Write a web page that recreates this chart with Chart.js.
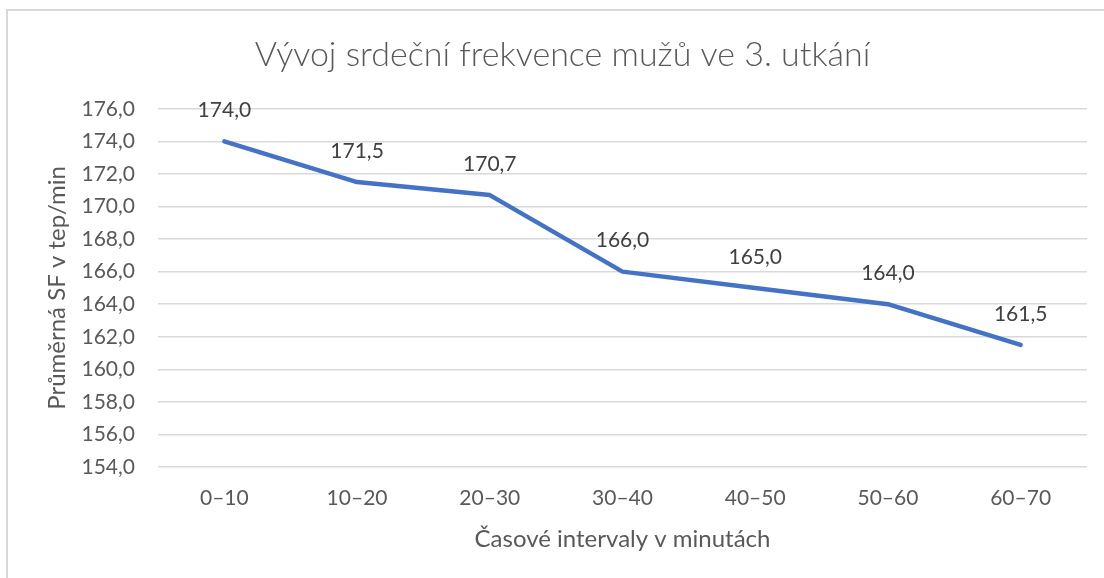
<!DOCTYPE html>
<html>
<head>
<meta charset="utf-8">
<script src="https://cdn.jsdelivr.net/npm/chart.js@4.4.0/dist/chart.umd.min.js"></script>
<style>
    html, body { margin: 0; padding: 0; background: #fff; overflow: hidden; }
    #frame { position: absolute; left: 6px; top: 9px; width: 1120px; height: 600px; border: 2px solid #d9d9d9; box-sizing: border-box; }
    #sf_chart { position: absolute; left: 0; top: 0; }
</style>
</head>
<body>
<div id="frame"></div>
<canvas id="sf_chart" width="1124" height="578"></canvas>
<script>
// data
const intervals = ["0–10", "10–20", "20–30", "30–40", "40–50", "50–60", "60–70"];
const heartRate = [174.0, 171.5, 170.7, 166.0, 165.0, 164.0, 161.5];
const yMin = 154, yMax = 176, yStep = 2;

const chartTitle = "Vývoj srdeční frekvence mužů ve 3. utkání";
const xTitle = "Časové intervaly v minutách";
const yTitle = "Průměrná SF v tep/min";

const textGrey = "#595959";
const fmt = v => v.toFixed(1).replace(".", ",");

Chart.defaults.font.family = "Lato";

// simple value labels above each point
const valueLabels = {
    id: "valueLabels",
    afterDatasetsDraw(chart) {
        const ctx = chart.ctx;
        const meta = chart.getDatasetMeta(0);
        ctx.save();
        ctx.font = "21px Lato";
        ctx.fillStyle = "#404040";
        ctx.textAlign = "center";
        ctx.textBaseline = "middle";
        meta.data.forEach((pt, i) => {
            ctx.fillText(fmt(chart.data.datasets[0].data[i]), pt.x, pt.y - 31);
        });
        ctx.restore();
    }
};

const config = {
    type: "line",
    data: {
        labels: intervals,
        datasets: [{
            label: yTitle,
            data: heartRate,
            borderColor: "#4472C4",
            borderWidth: 4.5,
            borderCapStyle: "round",
            borderJoinStyle: "round",
            pointRadius: 0,
            tension: 0,
            fill: false
        }]
    },
    options: {
        responsive: false,
        devicePixelRatio: 1,
        animation: false,
        layout: {
            padding: { left: 38, right: 37, top: 0, bottom: 0 }
        },
        plugins: {
            legend: { display: false },
            tooltip: { enabled: false },
            title: {
                display: true,
                text: chartTitle,
                color: textGrey,
                font: { size: 34, weight: "300" },
                padding: { top: 35, bottom: 33 }
            }
        },
        scales: {
            x: {
                offset: true,
                grid: { display: false },
                border: { display: false },
                ticks: { color: textGrey, font: { size: 21 }, padding: 11 },
                title: {
                    display: true,
                    text: xTitle,
                    color: textGrey,
                    font: { size: 24 },
                    padding: { top: 0, bottom: 24 }
                },
                afterFit(scale) { scale.height = 111; }
            },
            y: {
                min: yMin,
                max: yMax,
                grid: { color: "#d9d9d9", lineWidth: 1.5, drawTicks: false },
                border: { display: false },
                ticks: {
                    stepSize: yStep,
                    color: textGrey,
                    font: { size: 21 },
                    padding: 23,
                    callback: v => fmt(v)
                },
                title: {
                    display: true,
                    text: yTitle,
                    color: textGrey,
                    font: { size: 24 },
                    padding: { top: 5, bottom: 0 }
                },
                afterFit(scale) { scale.width = 120; }
            }
        }
    },
    plugins: [valueLabels]
};

window.sf_chart = new Chart(document.getElementById("sf_chart"), config);
</script>
</body>
</html>
